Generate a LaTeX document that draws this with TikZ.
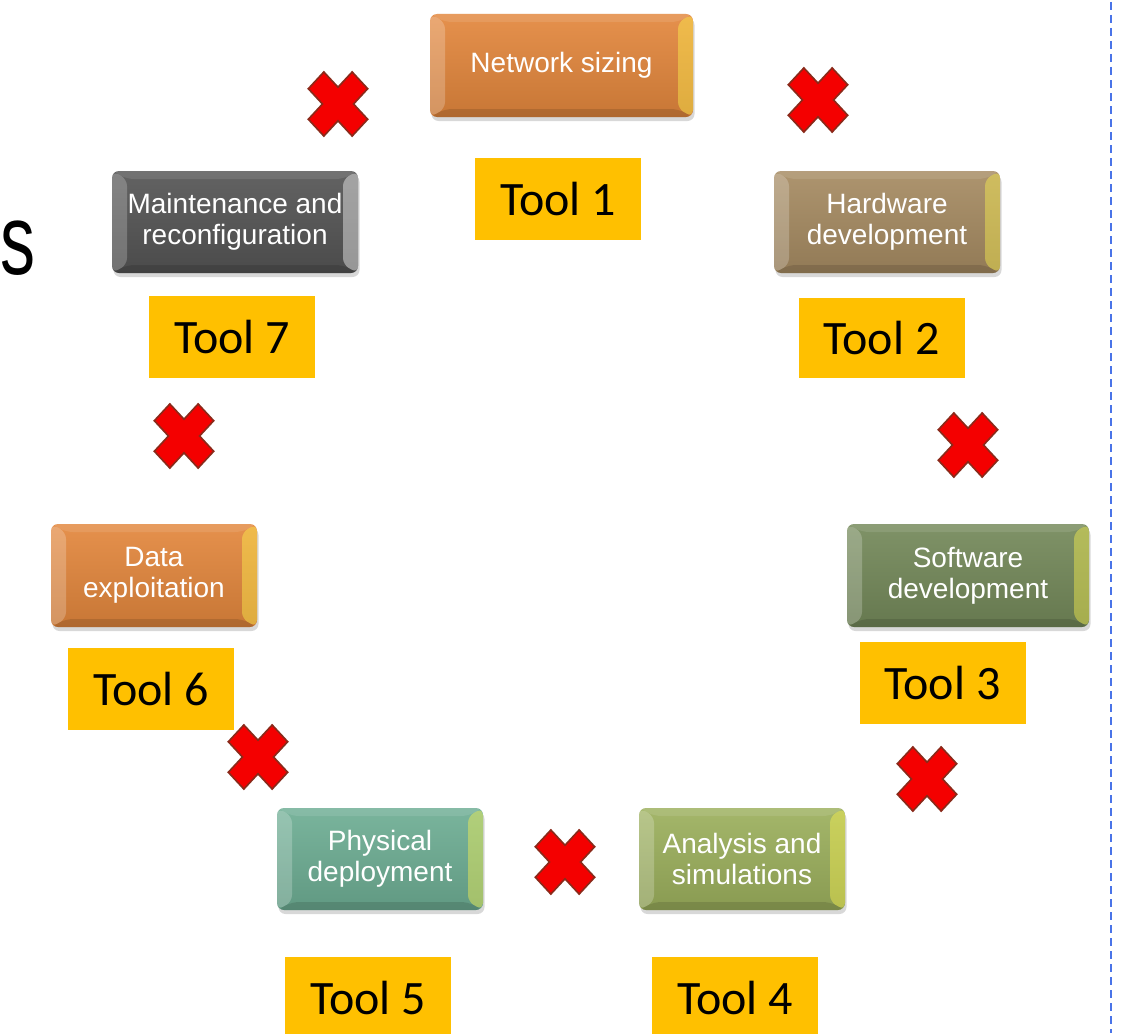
\documentclass[tikz,border=0pt]{standalone}
\usepackage{fontspec}
\usetikzlibrary{shadows}
\newfontfamily\btnfont{Liberation Sans}
\newfontfamily\toolfont{Carlito}

\definecolor{btnorange}{HTML}{E3873D}
\definecolor{btntan}{HTML}{A68B62}
\definecolor{btnolive}{HTML}{74895A}
\definecolor{btnlime}{HTML}{9CB05D}
\definecolor{btnteal}{HTML}{6EAE94}
\definecolor{btngray}{HTML}{555555}
\definecolor{toolyellow}{HTML}{FFC000}
\definecolor{xred}{HTML}{F40000}
\definecolor{xedge}{HTML}{8A2A1A}
\definecolor{sepblue}{HTML}{4A74E8}

\tikzset{
  bevel tint/.store in=\beveltint,
  bevel tint={yellow!70!white},
  % bevelled push-button box
  button/.style={
    rounded corners=7pt, inner sep=0pt, align=center, text=white,
    font=\btnfont\fontsize{28}{31}\selectfont,
    top color=#1!92!white, bottom color=#1!88!black,
    drop shadow={shadow xshift=1.5pt, shadow yshift=-4pt, opacity=0.3},
    path picture={
      \coordinate (pnw) at (path picture bounding box.north west);
      \coordinate (pne) at (path picture bounding box.north east);
      \coordinate (psw) at (path picture bounding box.south west);
      \coordinate (pse) at (path picture bounding box.south east);
      \coordinate (inw) at ([xshift=15pt,yshift=-8pt]pnw);
      \coordinate (ine) at ([xshift=-15pt,yshift=-8pt]pne);
      \coordinate (isw) at ([xshift=15pt,yshift=8pt]psw);
      \coordinate (ise) at ([xshift=-15pt,yshift=8pt]pse);
      \fill[white, opacity=0.10] (pnw) -- (pne) -- (ine) -- (inw) -- cycle;
      \fill[white, opacity=0.22] (pnw) -- (inw) -- (isw) -- (psw) -- cycle;
      \fill[\beveltint, opacity=0.42] (pne) -- (pse) -- (ise) -- (ine) -- cycle;
      \fill[black, opacity=0.12] (psw) -- (isw) -- (ise) -- (pse) -- cycle;
    }},
  toollabel/.style={
    fill=toolyellow, inner sep=0pt, minimum width=166pt, minimum height=82pt,
    font=\toolfont\fontsize{48}{52}\selectfont, text=black},
  redx/.pic={
    \filldraw[fill=xred, draw=xedge, line width=1.6pt, line join=miter, rotate=45]
      (-11,31) -- (11,31) -- (11,11) -- (31,11) -- (31,-11) -- (11,-11)
      -- (11,-31) -- (-11,-31) -- (-11,-11) -- (-31,-11) -- (-31,11)
      -- (-11,11) -- cycle;
  }
}

\begin{document}
\begin{tikzpicture}[x=1pt, y=-1pt]
\useasboundingbox (0,0) rectangle (1121,1033);
\clip (0,0) rectangle (1121,1033);
\fill[white] (0,0) rectangle (1121,1033);

% large letter at the left edge
\node[anchor=base east, inner sep=0pt, xscale=0.7,
      font=\btnfont\fontsize{100}{100}\selectfont]
  (sletter) at (35.5,274) {s};

% separator on the right
\coordinate (septop) at (1111,2);
\coordinate (sepbot) at (1111,1033);
\draw[sepblue, line width=1.5pt, dash pattern=on 8pt off 5pt] (septop) -- (sepbot);

% process steps
\node[button=btnorange, minimum width=263pt, minimum height=103pt] (net)  at (561.5,65.5) {Network sizing};
\node[button=btntan,    minimum width=226pt, minimum height=102pt] (hw)   at (887,222)    {Hardware\\development};
\node[button=btnolive,  minimum width=242pt, minimum height=103pt] (sw)   at (968,575.5)  {Software\\development};
\node[button=btnlime,   minimum width=206pt, minimum height=102pt] (ana)  at (742,859)    {Analysis and\\simulations};
\node[button=btnteal,   minimum width=206pt, minimum height=102pt] (phy)  at (380,859)    {Physical\\deployment};
\node[button=btnorange, minimum width=206pt, minimum height=103pt] (data) at (154,575.5)  {Data\\exploitation};
\node[button=btngray, bevel tint=white,
      minimum width=246pt, minimum height=102pt] (mnt)  at (235,222) {Maintenance and\\reconfiguration};

% tool labels
\node[toollabel] (t1) at (558,199)   {Tool 1};
\node[toollabel, minimum height=80pt] (t2) at (881.5,338) {Tool 2};
\node[toollabel] (t3) at (942.5,683) {Tool 3};
\node[toollabel] (t4) at (735,998)   {Tool 4};
\node[toollabel] (t5) at (368,998)   {Tool 5};
\node[toollabel] (t6) at (151,689)   {Tool 6};
\node[toollabel] (t7) at (232,337)   {Tool 7};

% broken links between steps
\pic[yscale=1.08] (x71) at (338,104) {redx};
\pic[yscale=1.08] (x12) at (818,100) {redx};
\pic[yscale=1.08] (x23) at (968,445) {redx};
\pic[yscale=1.08] (x34) at (927,779) {redx};
\pic[yscale=1.08] (x45) at (565,862) {redx};
\pic[yscale=1.08] (x56) at (258,757) {redx};
\pic[yscale=1.08] (x67) at (184,436) {redx};
\end{tikzpicture}
\end{document}
